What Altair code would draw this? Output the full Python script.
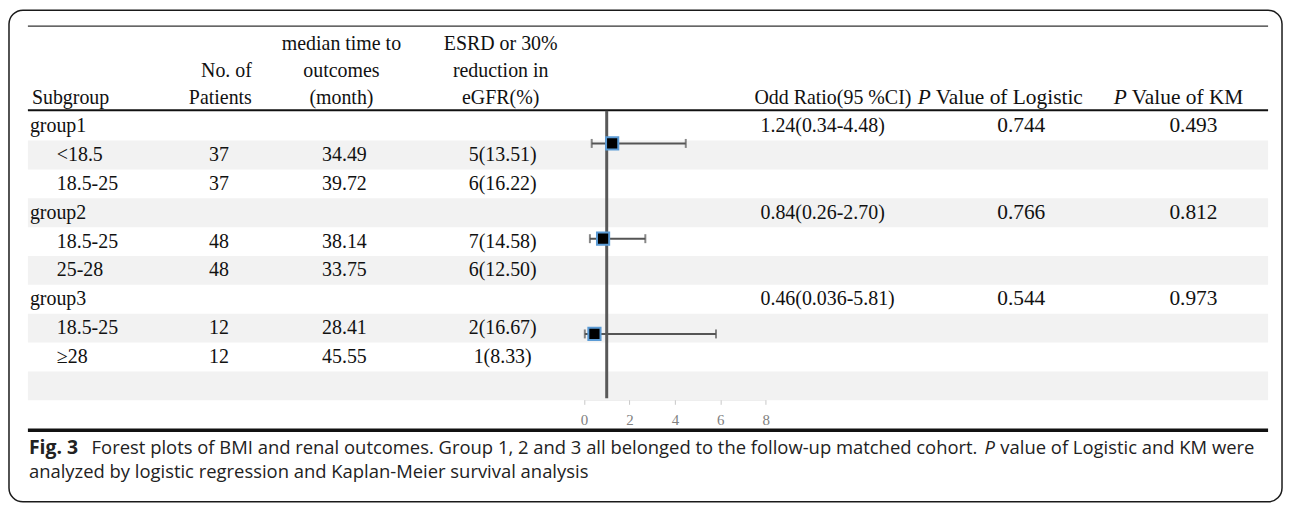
import altair as alt
import pandas as pd

# ---------------- data ----------------
subgroups = ["group1", "<18.5", "18.5-25", "group2", "18.5-25", "25-28", "group3", "18.5-25", "≥28"]
level = [0, 1, 1, 0, 1, 1, 0, 1, 1]
n_patients = ["", "37", "37", "", "48", "48", "", "12", "12"]
median_time = ["", "34.49", "39.72", "", "38.14", "33.75", "", "28.41", "45.55"]
esrd = ["", "5(13.51)", "6(16.22)", "", "7(14.58)", "6(12.50)", "", "2(16.67)", "1(8.33)"]

groups = ["group1", "group2", "group3"]
group_rows = [0, 3, 6]
or_est = [1.24, 0.84, 0.46]
or_lo = [0.34, 0.26, 0.036]
or_hi = [4.48, 2.70, 5.81]
or_label = ["1.24(0.34-4.48)", "0.84(0.26-2.70)", "0.46(0.036-5.81)"]
p_logistic = ["0.744", "0.766", "0.544"]
p_km = ["0.493", "0.812", "0.973"]
x_ticks = [0, 2, 4, 6, 8]
n_rows = 11  # 9 table rows + blank row + axis row

header_subgroup = ["", "", "Subgroup"]
header_patients = ["", "No. of", "Patients"]
header_median = ["median time to", "outcomes", "(month)"]
header_esrd = ["ESRD or 30%", "reduction in", "eGFR(%)"]
header_or = "Odd Ratio(95 %CI)"
header_p = "P"
header_logistic = "Value of Logistic"
header_km = "Value of KM"

cap_bold = "Fig. 3"
cap_1a = "Forest plots of BMI and renal outcomes. Group 1, 2 and 3 all belonged to the follow-up matched cohort."
cap_1p = "P"
cap_1b = "value of Logistic and KM were"
cap_2 = "analyzed by logistic regression and Kaplan-Meier survival analysis"

# ---------------- layout / style ----------------
VW, VH = 1279, 494
SERIF = "Liberation Serif"
SANS = "Open Sans"
INK = "#111111"
CAP_INK = "#222222"
CAP_SIZE = 18.5
P_SIZE = 21.5
TL, TR = 19, 1265          # table left/right (chart px)
HDR_Y = [34, 61, 88]       # header text line centres

YS = alt.Scale(domain=[0, n_rows], range=[102, 421], nice=False, zero=False)
XS = alt.Scale(domain=[0, 8], range=[577.7, 760.3], nice=False, zero=False)
AX = alt.Axis(values=x_ticks, grid=False, domainColor="#c8c8c8", domainWidth=1,
              tickColor="#c8c8c8", tickSize=5, labelFont=SERIF, labelFontSize=15,
              labelColor="#808080", labelPadding=8, labelFlush=False,
              offset=-(VH - 391), orient="bottom")


def Y(f):
    return alt.Y(f"{f}:Q", scale=YS, axis=None)


def X(f):
    return alt.X(f"{f}:Q", scale=XS, axis=AX, title=None)


def text_layer(df, field, x, y, align="left", font=SERIF, size=20, style="normal",
               weight="normal", color=INK):
    return alt.Chart(df).mark_text(
        align=align, baseline="middle", font=font, fontSize=size,
        fontStyle=style, fontWeight=weight, color=color
    ).encode(x=alt.value(x), y=y, text=alt.Text(f"{field}:N"))


def label(t, x, y, **kw):
    return text_layer(pd.DataFrame({"t": [t]}), "t", x, alt.value(y), **kw)


table = pd.DataFrame({
    "sub": subgroups, "lvl": level, "n": n_patients, "med": median_time,
    "esrd": esrd, "yc": [i + 0.5 for i in range(len(subgroups))]
})
right = pd.DataFrame({
    "g": groups, "orl": or_label, "pl": p_logistic, "pk": p_km,
    "yc": [r + 0.5 for r in group_rows]
})
forest = pd.DataFrame({
    "g": groups, "est": or_est, "lo": or_lo, "hi": or_hi,
    "fy": [1.1 + 3.3 * k for k in range(len(groups))]
})
bands = pd.DataFrame({"r0": [1, 3, 5, 7, 9]})
bands["r1"] = bands["r0"] + 1

layers = []

# zebra bands
layers.append(alt.Chart(bands).mark_rect(color="#f2f2f2").encode(
    y=Y("r0"), y2="r1", x=alt.value(TL), x2=alt.value(TR)))

# table rules
one = pd.DataFrame({"k": [0]})
layers.append(alt.Chart(one).mark_rule(color="#333333", strokeWidth=1.2).encode(
    x=alt.value(TL), x2=alt.value(TR), y=alt.value(16)))
layers.append(alt.Chart(one).mark_rule(color=INK, strokeWidth=2).encode(
    x=alt.value(TL), x2=alt.value(TR), y=alt.value(100.5)))
layers.append(alt.Chart(one).mark_rule(color=INK, strokeWidth=3.5).encode(
    x=alt.value(TL), x2=alt.value(TR), y=alt.value(422)))

# header texts
for i in range(3):
    if header_subgroup[i]:
        layers.append(label(header_subgroup[i], 23, HDR_Y[i]))
    if header_patients[i]:
        layers.append(label(header_patients[i], 244, HDR_Y[i], align="right"))
    layers.append(label(header_median[i], 334, HDR_Y[i], align="center"))
    layers.append(label(header_esrd[i], 494, HDR_Y[i], align="center"))
layers.append(label(header_or, 749, HDR_Y[2]))
layers.append(label(header_p, 913, HDR_Y[2], style="italic", size=P_SIZE))
layers.append(label(header_logistic, 931, HDR_Y[2], size=P_SIZE))
layers.append(label(header_p, 1110, HDR_Y[2], style="italic", size=P_SIZE))
layers.append(label(header_km, 1128, HDR_Y[2], size=P_SIZE))

# table body
layers.append(text_layer(table[table.lvl == 0], "sub", 21, Y("yc")))
layers.append(text_layer(table[table.lvl == 1], "sub", 48, Y("yc")))
layers.append(text_layer(table, "n", 211, Y("yc"), align="center"))
layers.append(text_layer(table, "med", 337, Y("yc"), align="center"))
layers.append(text_layer(table, "esrd", 496, Y("yc"), align="center"))
layers.append(text_layer(right, "orl", 755, Y("yc")))
layers.append(text_layer(right, "pl", 1017, Y("yc"), align="center", size=P_SIZE))
layers.append(text_layer(right, "pk", 1190, Y("yc"), align="center", size=P_SIZE))

# forest plot
ref = pd.DataFrame({"ref": [1.0]})
layers.append(alt.Chart(ref).mark_rule(color="#595959", strokeWidth=3).encode(
    x=X("ref"), y=alt.value(101), y2=alt.value(390)))
layers.append(alt.Chart(forest).mark_rule(color="#555555", strokeWidth=2).encode(
    x=X("lo"), x2="hi", y=Y("fy")))
layers.append(alt.Chart(forest).mark_tick(orient="vertical", size=9, thickness=2, color="#555555").encode(
    x=X("lo"), y=Y("fy")))
layers.append(alt.Chart(forest).mark_tick(orient="vertical", size=9, thickness=2, color="#555555").encode(
    x=X("hi"), y=Y("fy")))
layers.append(alt.Chart(forest).mark_square(size=150, fill="#000000", fillOpacity=1, opacity=1,
                                            stroke="#5b9bd5", strokeWidth=2).encode(
    x=X("est"), y=Y("fy")))

# caption
CAP_Y1, CAP_Y2 = 440, 464
layers.append(label(cap_bold, 20, CAP_Y1, font=SANS, size=19.5, weight="bold", color=CAP_INK))
layers.append(label(cap_1a, 83, CAP_Y1, font=SANS, size=CAP_SIZE, color=CAP_INK))
layers.append(label(cap_1p, 980, CAP_Y1, font=SANS, size=CAP_SIZE, style="italic", color=CAP_INK))
layers.append(label(cap_1b, 996, CAP_Y1, font=SANS, size=CAP_SIZE, color=CAP_INK))
layers.append(label(cap_2, 20, CAP_Y2, font=SANS, size=CAP_SIZE, color=CAP_INK))

chart = alt.layer(*layers).properties(
    width=VW, height=VH, autosize="none",
    padding={"left": 1, "top": 1, "right": 2, "bottom": 1},
    background="white"
).configure_view(stroke="#1a1a1a", strokeWidth=1.5, cornerRadius=14)

chart.save("out.html", embed_options={"renderer": "svg", "actions": False})
